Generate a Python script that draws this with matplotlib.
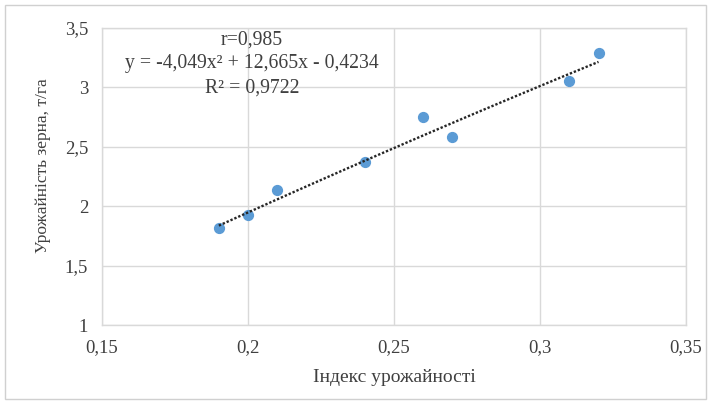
import matplotlib
matplotlib.use('Agg')
import matplotlib.pyplot as plt
from matplotlib.patches import Rectangle
import numpy as np

# data
yield_index = [0.19, 0.20, 0.21, 0.24, 0.26, 0.27, 0.31, 0.32]
grain_yield = [1.82, 1.93, 2.14, 2.37, 2.75, 2.58, 3.05, 3.29]
trend_coef = [-4.049, 12.665, -0.4234]

x_ticks = [0.15, 0.2, 0.25, 0.3, 0.35]
x_labels = ['0,15', '0,2', '0,25', '0,3', '0,35']
y_ticks = [1, 1.5, 2, 2.5, 3, 3.5]
y_labels = ['1', '1,5', '2', '2,5', '3', '3,5']

plt.rcParams['font.family'] = ['Liberation Serif', 'DejaVu Serif']

fig = plt.figure(figsize=(7.11, 4.04), dpi=100)
fig.patches.append(Rectangle((0.007, 0.012), 0.986, 0.976, transform=fig.transFigure,
                             fill=False, edgecolor='#d0d0d0', linewidth=1))
ax = fig.add_axes([0.1435, 0.1955, 0.8215, 0.7352])

ax.scatter(yield_index, grain_yield, s=50, color='#5B9BD5', zorder=3)

xs = np.linspace(min(yield_index), max(yield_index), 100)
ax.plot(xs, np.polyval(trend_coef, xs), linestyle=(0, (1, 0.8)), color='#262626',
        linewidth=1.7, zorder=4)

ax.set_xlim(0.15, 0.35)
ax.set_ylim(1, 3.5)
ax.set_xticks(x_ticks)
ax.set_xticklabels(x_labels)
ax.set_yticks(y_ticks)
ax.set_yticklabels(y_labels)
ax.tick_params(length=0, labelsize=13.5, colors='#404040', pad=10)
ax.grid(True, color='#d9d9d9', linewidth=1)
ax.set_axisbelow(True)
for s in ax.spines.values():
    s.set_color('#d9d9d9')
    s.set_linewidth(1)

ax.set_xlabel('Індекс урожайності', fontsize=14, color='#404040')
ax.set_ylabel('Урожайність зерна, т/га', fontsize=12.5, color='#404040')
ax.xaxis.set_label_coords(0.5, -0.148)
ax.yaxis.set_label_coords(-0.088, 0.535)

ax.text(0.2014, 3.2, 'r=0,985\ny = -4,049x² + 12,665x - 0,4234\nR² = 0,9722',
        ha='center', va='center', fontsize=14.2, color='#404040', linespacing=1.36)

plt.savefig('out.png', dpi=100)
